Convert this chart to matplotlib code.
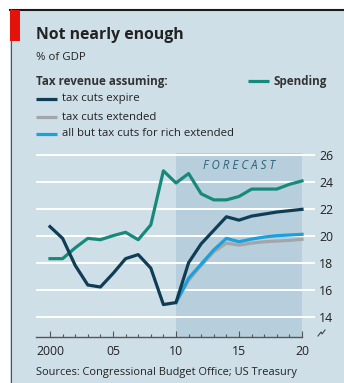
import matplotlib.pyplot as plt
from matplotlib.patches import Rectangle
from matplotlib.lines import Line2D

plt.rcParams['font.family'] = ['Open Sans', 'DejaVu Sans']

# data, % of GDP
years = list(range(2000, 2021))
spending = [18.3, 18.3, 19.1, 19.8, 19.7, 20.0, 20.25, 19.7, 20.8, 24.8, 23.9,
            24.6, 23.1, 22.65, 22.65, 22.9, 23.45, 23.45, 23.45, 23.8, 24.05]
tax_expire = [20.67, 19.8, 17.8, 16.35, 16.2, 17.2, 18.3, 18.6, 17.6, 14.9, 15.05,
              18.0, 19.4, 20.4, 21.4, 21.15, 21.45, 21.6, 21.75, 21.85, 21.95]
fc_years = list(range(2010, 2021))
tax_extended = [15.05, 16.7, 17.8, 18.8, 19.45, 19.3, 19.45, 19.55, 19.6, 19.65, 19.73]
tax_rich = [15.05, 16.85, 17.9, 18.95, 19.8, 19.55, 19.75, 19.9, 20.0, 20.05, 20.1]
yticks = [14, 16, 18, 20, 22, 24, 26]
xtick_pos = [2000, 2005, 2010, 2015, 2020]
xtick_lab = ['2000', '05', '10', '15', '20']

bg = '#cfdfe7'
c_spend = '#17897a'
c_expire = '#0e3d55'
c_ext = '#a3a6a8'
c_rich = '#1ba0dc'
txt = '#222222'

W, H = 344, 383
fig = plt.figure(figsize=(W / 100, H / 100), dpi=100)
fig.patch.set_facecolor('white')

def fx(px):
    return px / W

def fy(py):
    return 1 - py / H

# panel background and border
fig.patches.append(Rectangle((fx(10), 0), 1 - fx(10), fy(9), transform=fig.transFigure,
                             facecolor=bg, edgecolor='none', zorder=-5))
fig.lines.append(Line2D([fx(10), 1], [fy(9.5), fy(9.5)], transform=fig.transFigure,
                        color='#1a1a1a', lw=1.5))
fig.lines.append(Line2D([fx(10.5), fx(10.5)], [fy(9), 0], transform=fig.transFigure,
                        color='#555555', lw=0.8))
fig.patches.append(Rectangle((fx(10), fy(41)), fx(10), fy(10) - fy(41), transform=fig.transFigure,
                             facecolor='#e3120b', edgecolor='none', zorder=2))

# texts on top
fig.text(fx(36), fy(35), 'Not nearly enough', fontsize=11.3, fontweight='bold', color=txt,
         va='center', ha='left')
fig.text(fx(36), fy(57), '% of GDP', fontsize=8.2, color=txt, va='center', ha='left')
fig.text(fx(36), fy(81), 'Tax revenue assuming:', fontsize=8.4, fontweight='bold', color='#333333',
         va='center', ha='left')

legend_items = [(c_expire, 'tax cuts expire', 99), (c_ext, 'tax cuts extended', 117),
                (c_rich, 'all but tax cuts for rich extended', 134)]
for col, lab, yy in legend_items:
    fig.lines.append(Line2D([fx(36), fx(57)], [fy(yy), fy(yy)], transform=fig.transFigure,
                            color=col, lw=2.3, solid_capstyle='butt'))
    fig.text(fx(62), fy(yy), lab, fontsize=8.2, color=txt, va='center', ha='left')

fig.lines.append(Line2D([fx(248), fx(269)], [fy(81), fy(81)], transform=fig.transFigure,
                        color=c_spend, lw=2.3, solid_capstyle='butt'))
fig.text(fx(274), fy(81), 'Spending', fontsize=8.4, fontweight='bold', color='#333333',
         va='center', ha='left')

# main axes
x0 = 2000 - 14 / 12.6
x1 = 2020 + 13 / 12.6
ax = fig.add_axes([fx(36), fy(337), fx(315) - fx(36), fy(153) - fy(337)])
ax.set_facecolor('none')
ax.set_xlim(x0, x1)
ax.set_ylim(12.5, 26.12)
for s in ax.spines.values():
    s.set_visible(False)

ax.axvspan(2010, 2020, ymin=0, ymax=1, color='#b7cfdc', lw=0, zorder=0)
for yv in yticks:
    ax.axhline(yv, color='white', lw=1.4, zorder=1)
ax.text(2015, 25.2, 'F O R E C A S T', fontsize=8.3, style='italic', color='#2b6079',
        ha='center', va='center')

ax.plot(years, spending, color=c_spend, lw=2.3, zorder=3)
ax.plot(fc_years, tax_extended, color=c_ext, lw=2.3, zorder=3)
ax.plot(fc_years, tax_rich, color=c_rich, lw=2.3, zorder=4)
ax.plot(years, tax_expire, color=c_expire, lw=2.3, zorder=5)

# baseline with year ticks
ax.plot([x0, 2020], [12.5, 12.5], color='#555555', lw=1.0, clip_on=False, zorder=6)
ax.set_xticks(xtick_pos)
ax.set_xticklabels(xtick_lab)
ax.set_xticks(years, minor=True)
ax.tick_params(axis='x', which='major', direction='in', length=4, width=0.8, color='#555555',
               pad=6, labelsize=8.8, labelcolor=txt)
ax.tick_params(axis='x', which='minor', direction='in', length=2.5, width=0.8, color='#555555')
ax.set_yticks(yticks)
ax.yaxis.tick_right()
ax.tick_params(axis='y', which='major', length=0, pad=3, labelsize=8.8, labelcolor=txt)

# axis break mark
fig.lines.append(Line2D([fx(318), fx(321), fx(322), fx(325)], [fy(336), fy(332), fy(334), fy(330)],
                        transform=fig.transFigure, color='#444444', lw=0.8))

fig.text(fx(36), fy(373), 'Sources: Congressional Budget Office; US Treasury', fontsize=7.9,
         color=txt, va='center', ha='left')

fig.savefig('out.png', dpi=100)
